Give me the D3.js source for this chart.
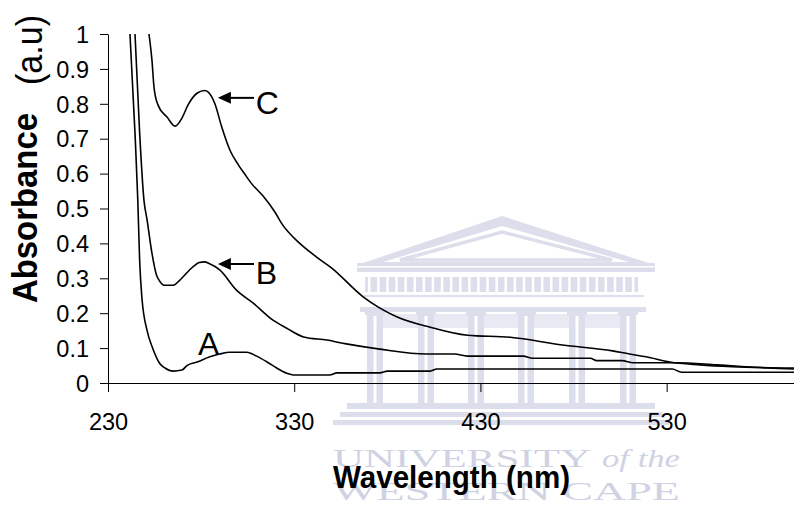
<!DOCTYPE html>
<html>
<head>
<meta charset="utf-8">
<script src="https://cdn.jsdelivr.net/npm/d3@7/dist/d3.min.js"></script>
<style>
  html, body { margin: 0; padding: 0; background: #ffffff; }
  svg { display: block; }
</style>
</head>
<body>
<svg id="chart" width="794" height="521"></svg>
<script>
// ---------------- DATA ----------------
const xTicks = [230, 330, 430, 530];
const yTicks = [0, 0.1, 0.2, 0.3, 0.4, 0.5, 0.6, 0.7, 0.8, 0.9, 1];

const nmA  = [241.8, 244.5, 246, 247, 248.2, 251, 253.6, 256.3, 257.9, 260.6, 264.9, 269.7, 272.4, 277.8, 284.7, 290, 295.5, 304.5, 309.8, 315.2, 320.6, 326, 329.5, 349, 353, 376, 380, 403, 406.6, 533, 538, 600];
const absA = [1.0, 0.716, 0.524, 0.35, 0.245, 0.15, 0.105, 0.07, 0.055, 0.043, 0.034, 0.037, 0.05, 0.06, 0.075, 0.083, 0.088, 0.088, 0.077, 0.061, 0.043, 0.028, 0.023, 0.023, 0.029, 0.029, 0.034, 0.034, 0.04, 0.04, 0.031, 0.031];

const nmB  = [244.5, 247, 249.3, 251, 253.6, 256, 258, 260, 265, 268.6, 275.6, 279, 282, 284, 290, 299, 308, 318.6, 326, 335, 347.5, 358, 376, 401, 416, 423, 453, 458, 489, 492.5, 506, 512, 535, 557, 584, 600];
const absB = [1.0, 0.716, 0.524, 0.467, 0.372, 0.31, 0.29, 0.28, 0.28, 0.295, 0.333, 0.345, 0.347, 0.343, 0.324, 0.266, 0.229, 0.18, 0.157, 0.132, 0.123, 0.112, 0.097, 0.083, 0.083, 0.077, 0.077, 0.071, 0.071, 0.064, 0.064, 0.058, 0.058, 0.052, 0.043, 0.04];

const nmC  = [252, 253.6, 254.7, 256.8, 261.7, 266, 269.7, 273, 278, 282, 283.7, 287.4, 291, 295.5, 300, 303.5, 307, 313.4, 319.6, 323.4, 333, 342, 350, 367, 385, 403, 423, 446, 474, 501, 510, 519, 531.7, 548, 565, 600];
const absC = [1.0, 0.925, 0.848, 0.797, 0.762, 0.736, 0.759, 0.797, 0.831, 0.838, 0.834, 0.80, 0.735, 0.667, 0.625, 0.598, 0.572, 0.535, 0.49, 0.456, 0.40, 0.361, 0.33, 0.247, 0.19, 0.16, 0.137, 0.131, 0.109, 0.092, 0.083, 0.075, 0.06, 0.052, 0.047, 0.043];

const seriesNames = ["A", "B", "C"];
// annotation anchors (data units): [label nm, label abs, arrow tip nm, arrow tail nm, arrow abs]
const labelA = [278.3, 0.080];
const labelB = [309.4, 0.284, 289, 308.4, 0.341];
const labelC = [309.4, 0.771, 289, 308.4, 0.817];

const xTitle = "Wavelength (nm)";
const yTitleMain = "Absorbance";
const yTitleUnit = "(a.u)";

// ---------------- SETUP ----------------
const svg = d3.select("#chart");
const FONT = "'Liberation Sans', Arial, Helvetica, sans-serif";
const SERIF = "'Liberation Serif', 'Times New Roman', serif";

const x = d3.scaleLinear().domain([230, 600]).range([108, 797]);
const y = d3.scaleLinear().domain([0, 1]).range([383, 34]);

// ---------------- WATERMARK (background decoration) ----------------
const wm = svg.append("g").attr("class", "watermark");
const wmc = "#dcdeeb";
const wmt = "#cfd2e3";
wm.append("polygon").attr("points", "357,265 502,216 655,265").attr("fill", wmc);
wm.append("polygon").attr("points", "383,262 502,226 629,262").attr("fill", "#fff");
wm.append("polygon").attr("points", "400,260 502,232 612,260").attr("fill", "#fff").attr("stroke", wmc).attr("stroke-width", 3.5);
wm.append("rect").attr("x", 357).attr("y", 263).attr("width", 298).attr("height", 9).attr("fill", wmc);
wm.append("rect").attr("x", 357).attr("y", 266).attr("width", 298).attr("height", 1.5).attr("fill", "#fff");
wm.append("rect").attr("x", 365).attr("y", 277).attr("width", 273).attr("height", 15).attr("fill", wmc);
for (let i = 0; i < 30; i++) {
  wm.append("rect").attr("x", 368 + i * 9.1).attr("y", 277).attr("width", 2.5).attr("height", 15).attr("fill", "#fff");
}
wm.append("rect").attr("x", 362).attr("y", 295).attr("width", 282).attr("height", 2).attr("fill", wmc);
wm.append("rect").attr("x", 360).attr("y", 307).attr("width", 286).attr("height", 5).attr("fill", wmc);
wm.append("rect").attr("x", 372).attr("y", 314).attr("width", 262).attr("height", 14).attr("fill", "#e8e9f2");
const colCenters = [375, 426, 476, 526, 577, 628];
colCenters.forEach(cx => {
  wm.append("rect").attr("x", cx - 10).attr("y", 310).attr("width", 20).attr("height", 5).attr("fill", wmc);
  wm.append("rect").attr("x", cx - 8).attr("y", 312).attr("width", 16).attr("height", 91).attr("fill", wmc);
  wm.append("rect").attr("x", cx - 1.5).attr("y", 316).attr("width", 3).attr("height", 87).attr("fill", "#fff");
});
wm.append("rect").attr("x", 347).attr("y", 403).attr("width", 308).attr("height", 6).attr("fill", wmc);
wm.append("rect").attr("x", 340).attr("y", 412).attr("width", 322).attr("height", 5).attr("fill", wmc);
wm.append("rect").attr("x", 333).attr("y", 420).attr("width", 336).attr("height", 5).attr("fill", wmc);
wm.append("text").attr("x", 333).attr("y", 467).attr("font-family", SERIF).attr("font-size", 26)
  .attr("fill", wmt).attr("textLength", 258).attr("lengthAdjust", "spacingAndGlyphs").text("UNIVERSITY");
wm.append("text").attr("x", 602).attr("y", 467).attr("font-family", SERIF).attr("font-size", 26)
  .attr("font-style", "italic").attr("fill", wmt).attr("textLength", 78).attr("lengthAdjust", "spacingAndGlyphs").text("of the");
wm.append("text").attr("x", 333).attr("y", 500).attr("font-family", SERIF).attr("font-size", 26)
  .attr("fill", wmt).attr("textLength", 347).attr("lengthAdjust", "spacingAndGlyphs").text("WESTERN CAPE");

// ---------------- AXES ----------------
const yAxis = d3.axisLeft(y).tickValues(yTicks).tickSize(8).tickSizeOuter(0).tickPadding(11)
  .tickFormat(d => (d === 0 || d === 1) ? String(d) : d.toFixed(1));
const gy = svg.append("g").attr("transform", "translate(108,0)").call(yAxis);

const xAxis = d3.axisBottom(x).tickValues(xTicks).tickSize(9).tickSizeOuter(0).tickPadding(21)
  .tickFormat(d3.format("d"));
const gx = svg.append("g").attr("transform", "translate(0,383)").call(xAxis);

[gx, gy].forEach(g => {
  g.selectAll("path.domain").attr("stroke", "#000").attr("stroke-width", 1);
  g.selectAll(".tick line").attr("stroke", "#000").attr("stroke-width", 1);
  g.selectAll(".tick text").attr("fill", "#000").attr("font-family", FONT).attr("font-size", 23.5);
});
gy.selectAll(".tick text").attr("dy", "0.35em");

// ---------------- CURVES ----------------
svg.append("defs").append("clipPath").attr("id", "plotclip")
  .append("rect").attr("x", 108).attr("y", 33).attr("width", 700).attr("height", 352);

const line = d3.line().x(d => x(d[0])).y(d => y(d[1])).curve(d3.curveMonotoneX);
const seriesData = [
  d3.zip(nmA, absA),
  d3.zip(nmB, absB),
  d3.zip(nmC, absC)
];
svg.append("g").attr("clip-path", "url(#plotclip)")
  .selectAll("path.curve").data(seriesData).join("path")
  .attr("class", "curve")
  .attr("d", line)
  .attr("fill", "none")
  .attr("stroke", "#000")
  .attr("stroke-width", 1.6)
  .attr("stroke-linejoin", "round");

// ---------------- ANNOTATIONS ----------------
const ann = svg.append("g");
function arrow(tipNm, tailNm, a) {
  const tx = x(tipNm), ty = y(a), ex = x(tailNm);
  ann.append("line").attr("x1", tx + 10).attr("y1", ty).attr("x2", ex).attr("y2", ty)
    .attr("stroke", "#000").attr("stroke-width", 2);
  ann.append("polygon")
    .attr("points", `${tx},${ty} ${tx + 13},${ty - 6} ${tx + 13},${ty + 6}`)
    .attr("fill", "#000");
}
arrow(labelC[2], labelC[3], labelC[4]);
arrow(labelB[2], labelB[3], labelB[4]);
[[labelA, seriesNames[0]], [labelB, seriesNames[1]], [labelC, seriesNames[2]]].forEach(([p, t]) => {
  ann.append("text").attr("x", x(p[0])).attr("y", y(p[1]))
    .attr("font-family", FONT).attr("font-size", 32).attr("fill", "#000").text(t);
});

// ---------------- TITLES ----------------
svg.append("text").attr("x", 333).attr("y", 488)
  .attr("font-family", FONT).attr("font-weight", "bold").attr("font-size", 32)
  .attr("textLength", 237).attr("lengthAdjust", "spacingAndGlyphs")
  .attr("fill", "#000").text(xTitle);

svg.append("text").attr("transform", "translate(37,303) rotate(-90)")
  .attr("font-family", FONT).attr("font-weight", "bold").attr("font-size", 35)
  .attr("textLength", 190).attr("lengthAdjust", "spacingAndGlyphs")
  .attr("fill", "#000").text(yTitleMain);
svg.append("text").attr("transform", "translate(42,85) rotate(-90)")
  .attr("font-family", FONT).attr("font-size", 36)
  .attr("textLength", 70).attr("lengthAdjust", "spacingAndGlyphs")
  .attr("fill", "#000").text(yTitleUnit);
</script>
</body>
</html>
